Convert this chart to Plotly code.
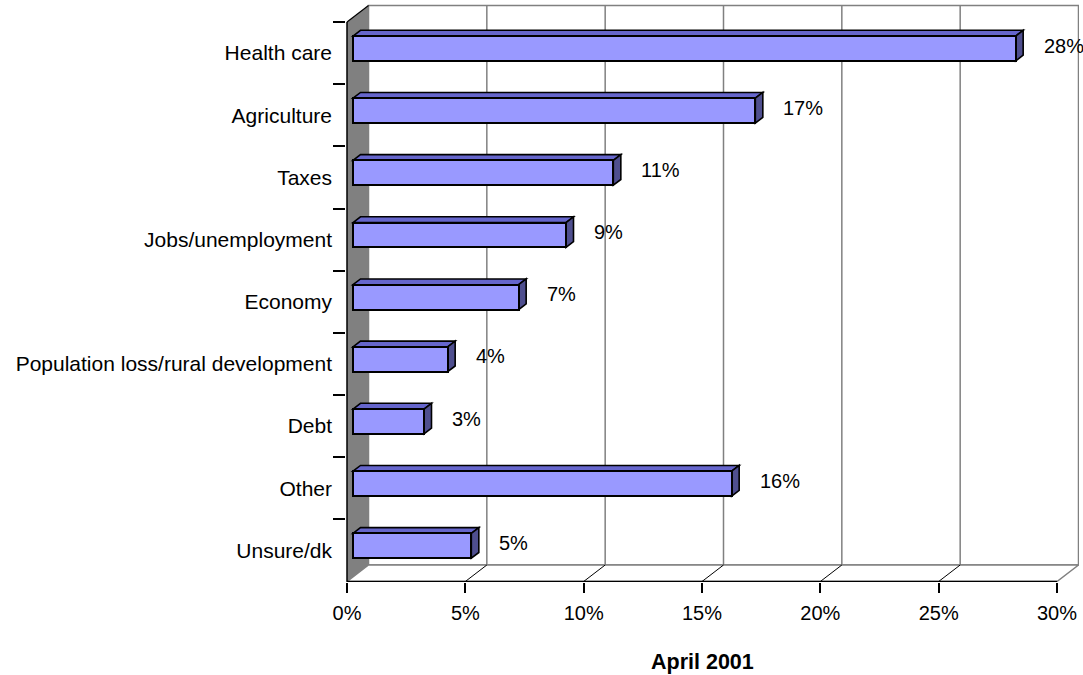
import plotly.graph_objects as go

# ---------------- data ----------------
categories = ["Health care", "Agriculture", "Taxes", "Jobs/unemployment", "Economy",
              "Population loss/rural development", "Debt", "Other", "Unsure/dk"]
values = [28, 17, 11, 9, 7, 4, 3, 16, 5]
x_ticks = [0, 5, 10, 15, 20, 25, 30]
x_tick_labels = ["0%", "5%", "10%", "15%", "20%", "25%", "30%"]
axis_title = "April 2001"

# ---------------- geometry (pixels -> data units) ----------------
W, H = 1083, 675
FRONT_X0 = 347.0          # pixel of 0% on front plane
UX = 710.0 / 30.0         # px per 1%
FRONT_TOP, FRONT_BOT = 22.0, 581.5
N = len(categories)
UY = (FRONT_BOT - FRONT_TOP) / N   # px per category
PLOT_L, PLOT_R, PLOT_T, PLOT_B = 346, 1079, 4, 582

DX_PX, DY_PX = 21.5, 16.5          # oblique depth offset of back plane
ddx = DX_PX / UX
ddy = -DY_PX / UY                  # reversed y axis: up = smaller value

xr = [(PLOT_L - FRONT_X0) / UX, (PLOT_R - FRONT_X0) / UX]
ytop_front, ybot_front = -0.5, N - 0.5
yr = [ybot_front + (PLOT_B - FRONT_BOT) / UY, ytop_front - (FRONT_TOP - PLOT_T) / UY]

f1, f2 = 6.0 / DX_PX, 13.5 / DX_PX   # bar depth range (fraction of full depth)
half_h = 0.2                          # half bar height (category units)

GRAY = "#808080"
FRONT = "#9999FF"
TOP = "#6666CC"
SIDE = "#4F4F8F"
FONT = "Liberation Sans, Arial, sans-serif"

shapes = []


def path(pts):
    return "M " + " L ".join(f"{x},{y}" for x, y in pts) + " Z"


def line(x0, y0, x1, y1, color, width, layer="below"):
    shapes.append(dict(type="line", xref="x", yref="y", x0=x0, y0=y0, x1=x1, y1=y1,
                       line=dict(color=color, width=width), layer=layer))


xmax = x_ticks[-1]
# back wall
shapes.append(dict(type="path", xref="x", yref="y",
                   path=path([(ddx, ytop_front + ddy), (xmax + ddx, ytop_front + ddy),
                              (xmax + ddx, ybot_front + ddy), (ddx, ybot_front + ddy)]),
                   fillcolor="white", line=dict(color=GRAY, width=1.5), layer="below"))
# back-wall gridlines
for t in x_ticks[1:-1]:
    line(t + ddx, ytop_front + ddy, t + ddx, ybot_front + ddy, GRAY, 1.5)
# left side wall
shapes.append(dict(type="path", xref="x", yref="y",
                   path=path([(0, ytop_front), (ddx, ytop_front + ddy),
                              (ddx, ybot_front + ddy), (0, ybot_front)]),
                   fillcolor=GRAY, line=dict(width=0), layer="below"))
# floor
shapes.append(dict(type="path", xref="x", yref="y",
                   path=path([(0, ybot_front), (ddx, ybot_front + ddy),
                              (xmax + ddx, ybot_front + ddy), (xmax, ybot_front)]),
                   fillcolor="white", line=dict(color=GRAY, width=1.5), layer="below"))
# floor diagonals at ticks
for t in x_ticks[1:-1]:
    line(t, ybot_front, t + ddx, ybot_front + ddy, "black", 1)
# wall edges / axis lines
line(0, ytop_front, ddx, ytop_front + ddy, "black", 1.2)
line(0, ytop_front, 0, ybot_front, "black", 1.5)
line(0, ybot_front, xmax, ybot_front, "black", 1.5)

# 3D faces of the bars
for i, v in enumerate(values):
    yc = i + f1 * ddy
    yt, yb = yc - half_h, yc + half_h
    dd = (f2 - f1)
    top_pts = [(f1 * ddx, yt), (f2 * ddx, yt + dd * ddy),
               (v + f2 * ddx, yt + dd * ddy), (v + f1 * ddx, yt)]
    side_pts = [(v + f1 * ddx, yt), (v + f2 * ddx, yt + dd * ddy),
                (v + f2 * ddx, yb + dd * ddy), (v + f1 * ddx, yb)]
    shapes.append(dict(type="path", xref="x", yref="y", path=path(top_pts),
                       fillcolor=TOP, line=dict(color="black", width=1.6), layer="below"))
    shapes.append(dict(type="path", xref="x", yref="y", path=path(side_pts),
                       fillcolor=SIDE, line=dict(color="black", width=1.6), layer="below"))

fig = go.Figure()
fig.add_trace(go.Bar(
    y=categories, x=values, base=[f1 * ddx] * N, orientation="h",
    width=2 * half_h, offset=f1 * ddy - half_h,
    marker=dict(color=FRONT, line=dict(color="black", width=2)),
    hoverinfo="skip", showlegend=False,
))

annotations = []
label_gap = 26.0 / UX
for i, v in enumerate(values):
    annotations.append(dict(
        x=v + f1 * ddx + label_gap, y=i - 7.5 / UY, xref="x", yref="y",
        text=f"{v}%", showarrow=False, xanchor="left", yanchor="middle",
        font=dict(family=FONT, size=20, color="black"),
    ))
annotations.append(dict(
    x=15, y=-(662 - PLOT_B) / (PLOT_B - PLOT_T), xref="x", yref="paper",
    text=f"<b>{axis_title}</b>", showarrow=False, xanchor="center", yanchor="middle",
    font=dict(family=FONT, size=21.5, color="black"),
))

fig.update_layout(
    width=W, height=H,
    margin=dict(l=PLOT_L, r=W - PLOT_R, t=PLOT_T, b=H - PLOT_B, pad=0),
    paper_bgcolor="white", plot_bgcolor="white",
    shapes=shapes, annotations=annotations,
    bargap=0,
    font=dict(family=FONT, size=20, color="black"),
    xaxis=dict(range=xr, tickvals=x_ticks, ticktext=x_tick_labels,
               showgrid=False, zeroline=False, showline=False,
               ticks="outside", ticklen=10, tickwidth=1.5, tickcolor="black",
               ticklabelstandoff=3, tickfont=dict(size=20), fixedrange=True),
    yaxis=dict(type="category", categoryorder="array", categoryarray=categories,
               range=yr, showgrid=False, zeroline=False, showline=False,
               ticks="outside", tickson="boundaries", ticklen=12, tickwidth=1.5,
               tickcolor="black", ticklabelstandoff=13, tickfont=dict(size=21),
               fixedrange=True),
)

fig.write_html("out.html", config={"displayModeBar": False},
               post_script="document.body.style.margin='0';"
                           "document.body.style.overflow='hidden';")
